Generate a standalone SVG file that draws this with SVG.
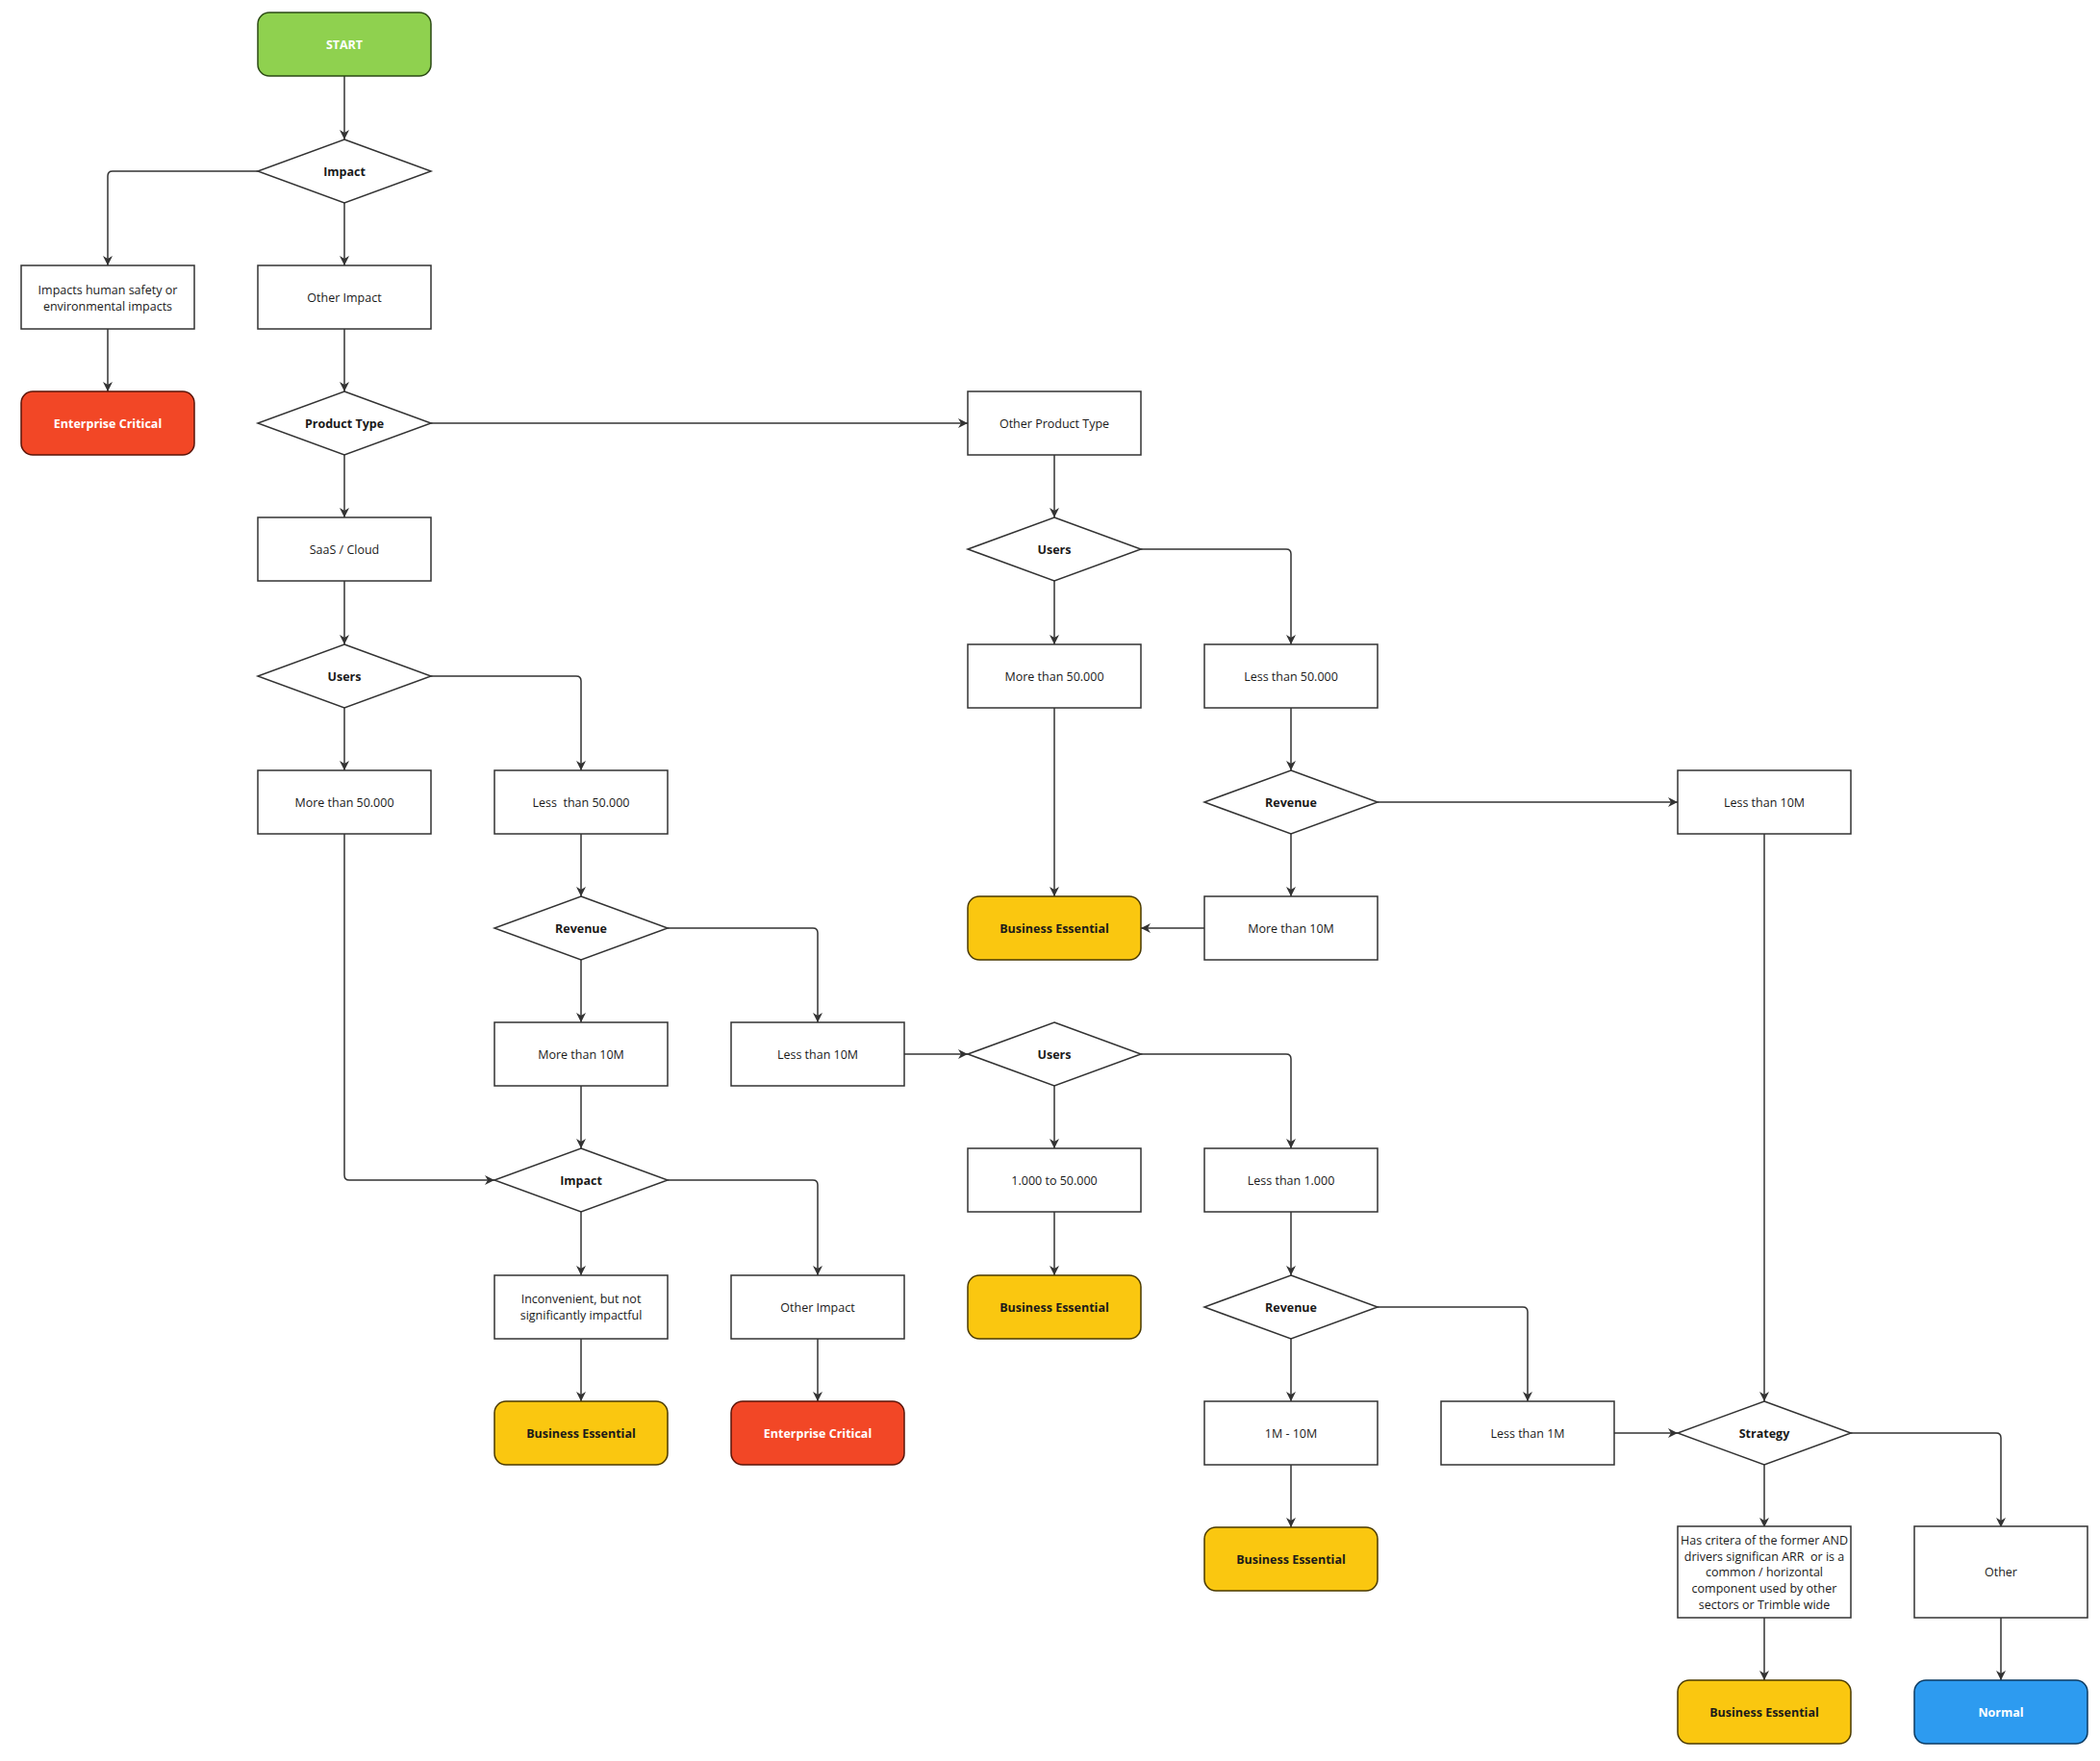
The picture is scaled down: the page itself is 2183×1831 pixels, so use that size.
<svg xmlns="http://www.w3.org/2000/svg" width="2183" height="1831" viewBox="0 0 2183 1831">
<defs>
<marker id="ah" viewBox="0 0 10 10" refX="10" refY="5" markerWidth="10" markerHeight="10" markerUnits="userSpaceOnUse" orient="auto"><path d="M0,0 L10,5 L0,10 L3,5 z" fill="#333"/></marker>
<style>
.b{fill:#fff;stroke:#333;stroke-width:1.5}
.t{font-family:"Open Sans","Liberation Sans",sans-serif;font-size:12.5px;fill:#1a1a1a;text-anchor:middle;dominant-baseline:central}
.k{font-family:"Open Sans","Liberation Sans",sans-serif;font-size:12.5px;font-weight:bold;fill:#1a1a1a;text-anchor:middle;dominant-baseline:central}
.w{fill:#fff}
.g{fill:#8fd14f;stroke:#2b4a14;stroke-width:1.5}
.r{fill:#f24726;stroke:#5a1408;stroke-width:1.5}
.y{fill:#fac710;stroke:#4a3a00;stroke-width:1.5}
.u{fill:#2d9bf0;stroke:#0c3a60;stroke-width:1.5}
.c path{fill:none;stroke:#333;stroke-width:1.5;marker-end:url(#ah)}
</style>
</defs>
<rect width="2183" height="1831" fill="#fff"/>
<g class="c">
<path d="M358,79 V145"/>
<path d="M268,178 H117 Q112,178 112,183 V276"/>
<path d="M358,211 V276"/>
<path d="M112,342 V407"/>
<path d="M358,342 V407"/>
<path d="M448,440 H1006"/>
<path d="M358,473 V538"/>
<path d="M1096,473 V538"/>
<path d="M1096,604 V670"/>
<path d="M1186,571 H1337 Q1342,571 1342,576 V670"/>
<path d="M358,604 V670"/>
<path d="M358,736 V801"/>
<path d="M448,703 H599 Q604,703 604,708 V801"/>
<path d="M1096,736 V932"/>
<path d="M1342,736 V801"/>
<path d="M1432,834 H1744"/>
<path d="M1342,867 V932"/>
<path d="M1252,965 H1186"/>
<path d="M1834,867 V1457"/>
<path d="M358,867 V1222 Q358,1227 363,1227 H514"/>
<path d="M604,867 V932"/>
<path d="M604,998 V1063"/>
<path d="M694,965 H845 Q850,965 850,970 V1063"/>
<path d="M604,1129 V1194"/>
<path d="M940,1096 H1006"/>
<path d="M1096,1129 V1194"/>
<path d="M1186,1096 H1337 Q1342,1096 1342,1101 V1194"/>
<path d="M604,1260 V1326"/>
<path d="M694,1227 H845 Q850,1227 850,1232 V1326"/>
<path d="M604,1392 V1457"/>
<path d="M850,1392 V1457"/>
<path d="M1096,1260 V1326"/>
<path d="M1342,1260 V1326"/>
<path d="M1342,1392 V1457"/>
<path d="M1432,1359 H1583 Q1588,1359 1588,1364 V1457"/>
<path d="M1342,1523 V1588"/>
<path d="M1678,1490 H1744"/>
<path d="M1834,1523 V1588"/>
<path d="M1924,1490 H2075 Q2080,1490 2080,1495 V1588"/>
<path d="M1834,1682 V1747"/>
<path d="M2080,1682 V1747"/>
</g>
<g id="start"><rect class="g" x="268" y="13" width="180" height="66" rx="12"/><text class="k w" x="358" y="46" style="fill:#fff">START</text></g>
<g id="d-impact1"><polygon class="b" points="358,145 448,178 358,211 268,178"/><text class="k" x="358" y="178">Impact</text></g>
<g id="human"><rect class="b" x="22" y="276" width="180" height="66"/><text class="t" x="112" y="301">Impacts human safety or</text><text class="t" x="112" y="318">environmental impacts</text></g>
<g id="other-impact1"><rect class="b" x="268" y="276" width="180" height="66"/><text class="t" x="358" y="309">Other Impact</text></g>
<g id="ec1"><rect class="r" x="22" y="407" width="180" height="66" rx="12"/><text class="k" x="112" y="440" style="fill:#fff">Enterprise Critical</text></g>
<g id="d-product"><polygon class="b" points="358,407 448,440 358,473 268,440"/><text class="k" x="358" y="440">Product Type</text></g>
<g id="other-product"><rect class="b" x="1006" y="407" width="180" height="66"/><text class="t" x="1096" y="440">Other Product Type</text></g>
<g id="saas"><rect class="b" x="268" y="538" width="180" height="66"/><text class="t" x="358" y="571">SaaS / Cloud</text></g>
<g id="d-users-op"><polygon class="b" points="1096,538 1186,571 1096,604 1006,571"/><text class="k" x="1096" y="571">Users</text></g>
<g id="d-users-saas"><polygon class="b" points="358,670 448,703 358,736 268,703"/><text class="k" x="358" y="703">Users</text></g>
<g id="op-more50"><rect class="b" x="1006" y="670" width="180" height="66"/><text class="t" x="1096" y="703">More than 50.000</text></g>
<g id="op-less50"><rect class="b" x="1252" y="670" width="180" height="66"/><text class="t" x="1342" y="703">Less than 50.000</text></g>
<g id="s-more50"><rect class="b" x="268" y="801" width="180" height="66"/><text class="t" x="358" y="834">More than 50.000</text></g>
<g id="s-less50"><rect class="b" x="514" y="801" width="180" height="66"/><text class="t" x="604" y="834" xml:space="preserve">Less  than 50.000</text></g>
<g id="d-rev-op"><polygon class="b" points="1342,801 1432,834 1342,867 1252,834"/><text class="k" x="1342" y="834">Revenue</text></g>
<g id="op-less10m"><rect class="b" x="1744" y="801" width="180" height="66"/><text class="t" x="1834" y="834">Less than 10M</text></g>
<g id="d-rev-s"><polygon class="b" points="604,932 694,965 604,998 514,965"/><text class="k" x="604" y="965">Revenue</text></g>
<g id="be1"><rect class="y" x="1006" y="932" width="180" height="66" rx="12"/><text class="k" x="1096" y="965">Business Essential</text></g>
<g id="op-more10m"><rect class="b" x="1252" y="932" width="180" height="66"/><text class="t" x="1342" y="965">More than 10M</text></g>
<g id="s-more10m"><rect class="b" x="514" y="1063" width="180" height="66"/><text class="t" x="604" y="1096">More than 10M</text></g>
<g id="s-less10m"><rect class="b" x="760" y="1063" width="180" height="66"/><text class="t" x="850" y="1096">Less than 10M</text></g>
<g id="d-users2"><polygon class="b" points="1096,1063 1186,1096 1096,1129 1006,1096"/><text class="k" x="1096" y="1096">Users</text></g>
<g id="d-impact2"><polygon class="b" points="604,1194 694,1227 604,1260 514,1227"/><text class="k" x="604" y="1227">Impact</text></g>
<g id="u1000-50000"><rect class="b" x="1006" y="1194" width="180" height="66"/><text class="t" x="1096" y="1227">1.000 to 50.000</text></g>
<g id="u-less1000"><rect class="b" x="1252" y="1194" width="180" height="66"/><text class="t" x="1342" y="1227">Less than 1.000</text></g>
<g id="inconvenient"><rect class="b" x="514" y="1326" width="180" height="66"/><text class="t" x="604" y="1350">Inconvenient, but not</text><text class="t" x="604" y="1367">significantly impactful</text></g>
<g id="other-impact2"><rect class="b" x="760" y="1326" width="180" height="66"/><text class="t" x="850" y="1359">Other Impact</text></g>
<g id="be2"><rect class="y" x="1006" y="1326" width="180" height="66" rx="12"/><text class="k" x="1096" y="1359">Business Essential</text></g>
<g id="d-rev3"><polygon class="b" points="1342,1326 1432,1359 1342,1392 1252,1359"/><text class="k" x="1342" y="1359">Revenue</text></g>
<g id="be3"><rect class="y" x="514" y="1457" width="180" height="66" rx="12"/><text class="k" x="604" y="1490">Business Essential</text></g>
<g id="ec2"><rect class="r" x="760" y="1457" width="180" height="66" rx="12"/><text class="k" x="850" y="1490" style="fill:#fff">Enterprise Critical</text></g>
<g id="r1m10m"><rect class="b" x="1252" y="1457" width="180" height="66"/><text class="t" x="1342" y="1490">1M - 10M</text></g>
<g id="r-less1m"><rect class="b" x="1498" y="1457" width="180" height="66"/><text class="t" x="1588" y="1490">Less than 1M</text></g>
<g id="d-strategy"><polygon class="b" points="1834,1457 1924,1490 1834,1523 1744,1490"/><text class="k" x="1834" y="1490">Strategy</text></g>
<g id="be4"><rect class="y" x="1252" y="1588" width="180" height="66" rx="12"/><text class="k" x="1342" y="1621">Business Essential</text></g>
<g id="criteria"><rect class="b" x="1744" y="1587" width="180" height="95"/><text class="t" x="1834" y="1601">Has critera of the former AND</text><text class="t" x="1834" y="1618" xml:space="preserve">drivers significan ARR  or is a</text><text class="t" x="1834" y="1634">common / horizontal</text><text class="t" x="1834" y="1651">component used by other</text><text class="t" x="1834" y="1668">sectors or Trimble wide</text></g>
<g id="other"><rect class="b" x="1990" y="1587" width="180" height="95"/><text class="t" x="2080" y="1634">Other</text></g>
<g id="be5"><rect class="y" x="1744" y="1747" width="180" height="66" rx="12"/><text class="k" x="1834" y="1780">Business Essential</text></g>
<g id="normal"><rect class="u" x="1990" y="1747" width="180" height="66" rx="12"/><text class="k" x="2080" y="1780" style="fill:#fff">Normal</text></g>
</svg>
